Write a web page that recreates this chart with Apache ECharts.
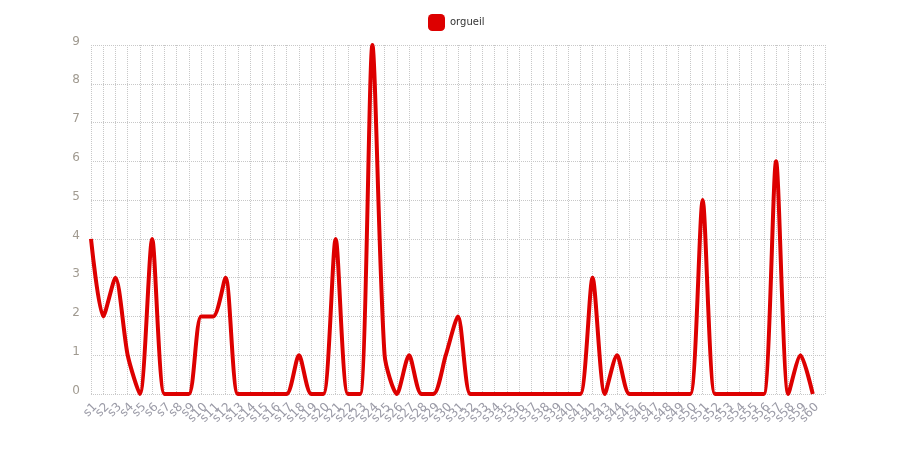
<!DOCTYPE html>
<html>
<head>
<meta charset="utf-8">
<script src="https://cdn.jsdelivr.net/npm/echarts@6/dist/echarts.min.js"></script>
<style>html,body{margin:0;padding:0;background:#fff}#c{width:903px;height:449px}</style>
</head>
<body>
<div id="c"></div>
<script>
var categories = ['s1','s2','s3','s4','s5','s6','s7','s8','s9','s10','s11','s12','s13','s14','s15','s16','s17','s18','s19','s20','s21','s22','s23','s24','s25','s26','s27','s28','s29','s30','s31','s32','s33','s34','s35','s36','s37','s38','s39','s40','s41','s42','s43','s44','s45','s46','s47','s48','s49','s50','s51','s52','s53','s54','s55','s56','s57','s58','s59','s60',''];
var seriesName = 'orgueil';
var values = [4,2,3,1,0,4,0,0,0,2,2,3,0,0,0,0,0,1,0,0,4,0,0,9,1,0,1,0,0,1,2,0,0,0,0,0,0,0,0,0,0,3,0,1,0,0,0,0,0,0,5,0,0,0,0,0,6,0,1,0,'-'];
var yTicks = [0,1,2,3,4,5,6,7,8,9];

var chart = echarts.init(document.getElementById('c'));
chart.setOption({
  animation: false,
  legend: {
    top: 9, left: 423,
    itemWidth: 17, itemHeight: 17, itemGap: 10,
    textStyle: {fontSize: 10, color: '#333', fontFamily: 'DejaVu Sans'},
    data: [{name: seriesName, icon: 'roundRect'}]
  },
  grid: {left: 91, right: 78, top: 45, bottom: 55, containLabel: false},
  xAxis: {
    type: 'category', data: categories, boundaryGap: false,
    axisLine: {show: false}, axisTick: {show: false},
    axisLabel: {interval: 0, rotate: 45, color: '#9a9aa6', fontSize: 12, fontFamily: 'DejaVu Sans', margin: 7, verticalAlign: 'top'},
    splitLine: {show: true, lineStyle: {type: 'dotted', color: '#c8c8c8'}}
  },
  yAxis: {
    type: 'value', min: 0, max: 9, interval: 1,
    axisLine: {show: false}, axisTick: {show: false},
    axisLabel: {color: '#a09a90', fontSize: 12, fontFamily: 'DejaVu Sans', margin: 11, verticalAlign: 'bottom', lineHeight: 7},
    splitLine: {show: true, lineStyle: {type: 'dotted', color: '#c8c8c8'}}
  },
  series: [{
    name: seriesName, type: 'line', data: values, smooth: 0.25,
    showSymbol: false, symbol: 'none',
    itemStyle: {color: '#dd0000'},
    lineStyle: {color: '#dd0000', width: 4}
  }]
});
</script>
</body>
</html>
